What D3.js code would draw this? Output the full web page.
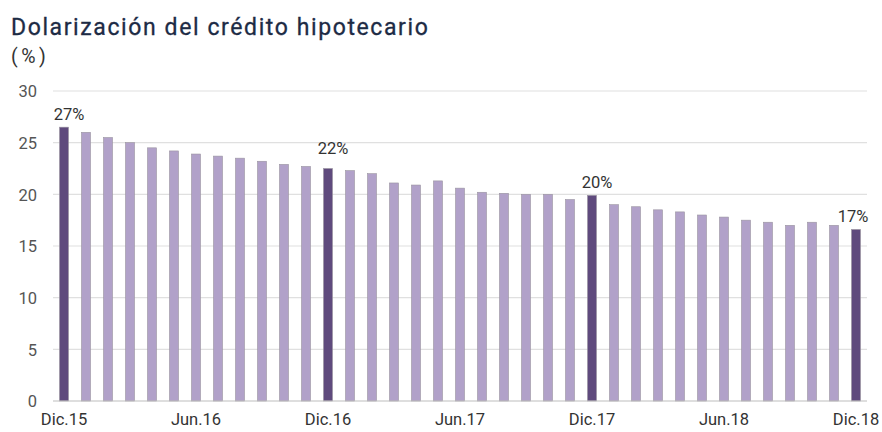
<!DOCTYPE html>
<html>
<head>
<meta charset="utf-8">
<script src="https://cdn.jsdelivr.net/npm/d3@7"></script>
<style>
  body { margin: 0; background: #fff; }
  text { font-family: Roboto, "Noto Sans", sans-serif; }
</style>
</head>
<body>
<svg id="chart" width="882" height="432"></svg>
<script>
// monthly series, Dic.15 .. Dic.18
var months = ["Dic.15","Ene.16","Feb.16","Mar.16","Abr.16","May.16","Jun.16","Jul.16","Ago.16","Sep.16","Oct.16","Nov.16",
              "Dic.16","Ene.17","Feb.17","Mar.17","Abr.17","May.17","Jun.17","Jul.17","Ago.17","Sep.17","Oct.17","Nov.17",
              "Dic.17","Ene.18","Feb.18","Mar.18","Abr.18","May.18","Jun.18","Jul.18","Ago.18","Sep.18","Oct.18","Nov.18","Dic.18"];
var values = [26.5, 26.0, 25.5, 25.0, 24.5, 24.2, 23.9, 23.7, 23.5, 23.2, 22.9, 22.7,
              22.5, 22.3, 22.0, 21.1, 20.9, 21.3, 20.6, 20.2, 20.1, 20.0, 20.0, 19.5,
              19.9, 19.0, 18.8, 18.5, 18.3, 18.0, 17.8, 17.5, 17.3, 17.0, 17.3, 17.0, 16.6];
var tickLabels = ["Dic.15","Jun.16","Dic.16","Jun.17","Dic.17","Jun.18","Dic.18"];
var yTicks = [0, 5, 10, 15, 20, 25, 30];
var highlighted = ["Dic.15","Dic.16","Dic.17","Dic.18"];
var callouts = ["27%","22%","20%","17%"];

var svg = d3.select("#chart");
var margin = {left: 53, right: 15, top: 91, bottom: 31};
var W = 882, H = 432;

var x = d3.scaleBand().domain(months)
    .range([margin.left, W - margin.right])
    .paddingInner(0.59).paddingOuter(0.295);
var y = d3.scaleLinear().domain([0, 30]).range([H - margin.bottom, margin.top]);

// title
svg.append("text").attr("x", 11).attr("y", 35)
    .attr("font-size", 23).attr("fill", "#1d2b45").attr("letter-spacing", 1.6)
    .attr("stroke", "#1d2b45").attr("stroke-width", 0.3)
    .text("Dolarización del crédito hipotecario");
svg.append("text").attr("x", 11).attr("y", 63)
    .attr("font-size", 19.5).attr("fill", "#333").attr("letter-spacing", 3.5)
    .text("(%)");

// grid
svg.append("g").selectAll("line").data(yTicks.slice(1)).join("line")
    .attr("x1", margin.left).attr("x2", W - margin.right)
    .attr("y1", d => y(d)).attr("y2", d => y(d))
    .attr("stroke", "#e0e0e0").attr("stroke-width", 1.2);

// y axis
var yAxis = svg.append("g").attr("transform", "translate(" + (margin.left - 16) + ",0)")
    .call(d3.axisLeft(y).tickValues(yTicks).tickSize(0).tickPadding(0));
yAxis.select(".domain").remove();
yAxis.selectAll("text").attr("font-size", 16.5).attr("fill", "#555").attr("dy", "0.35em");

// bars
svg.append("g").selectAll("rect").data(values).join("rect")
    .attr("x", (d, i) => x(months[i]))
    .attr("width", x.bandwidth())
    .attr("y", d => y(d))
    .attr("height", d => y(0) - y(d))
    .attr("fill", (d, i) => highlighted.indexOf(months[i]) >= 0 ? "#5f4a7d" : "#b1a1c9")
    .attr("stroke", "#9a94a0").attr("stroke-width", 0.6);

// baseline
svg.append("line")
    .attr("x1", margin.left).attr("x2", W - margin.right)
    .attr("y1", y(0)).attr("y2", y(0))
    .attr("stroke", "#bdbdbd").attr("stroke-width", 1.2);

// x axis
var xAxis = svg.append("g").attr("transform", "translate(0," + y(0) + ")")
    .call(d3.axisBottom(x).tickValues(tickLabels).tickSize(0).tickPadding(12));
xAxis.select(".domain").remove();
xAxis.selectAll("text").attr("font-size", 16.5).attr("fill", "#333").attr("dy", "0.71em");

// callouts above the highlighted bars
svg.append("g").selectAll("text").data(highlighted).join("text")
    .attr("x", (d, i) => {
        var cx = x(d) + x.bandwidth() / 2;
        return i === highlighted.length - 1 ? cx - 3 : cx + 5;
    })
    .attr("y", (d, i) => {
        var v = values[months.indexOf(d)];
        return y(v) - (i === 1 ? 15 : 7);
    })
    .attr("text-anchor", "middle")
    .attr("font-size", 16.5).attr("fill", "#333")
    .text((d, i) => callouts[i]);
</script>
</body>
</html>
